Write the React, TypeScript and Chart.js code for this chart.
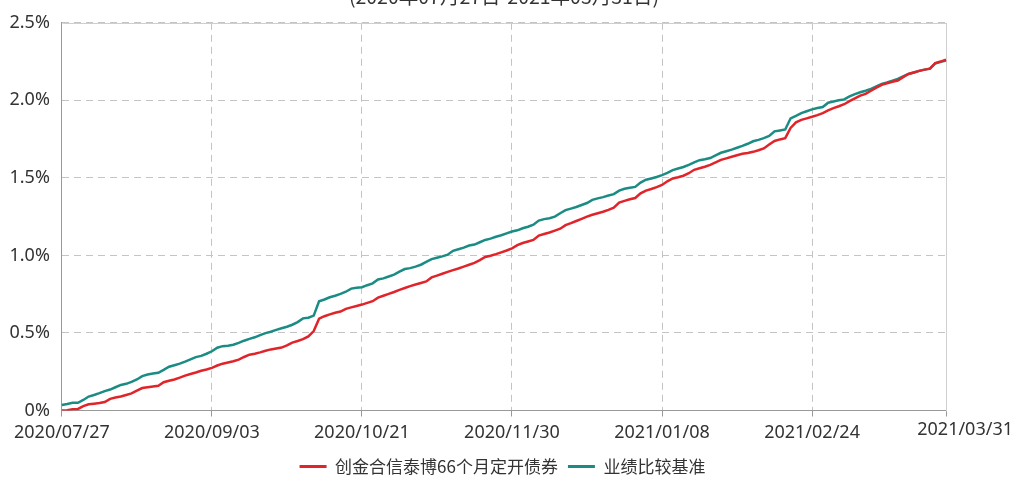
import React, { useEffect, useRef } from "react";
import { Chart, registerables } from "chart.js";

Chart.register(...registerables);

const TITLE = "(2020年07月27日-2021年03月31日)";
const FUND_NAME = "创金合信泰博66个月定开债券";
const BENCH_NAME = "业绩比较基准";

const DATES = [
  "2020/07/27", "2020/07/28", "2020/07/29", "2020/07/30", "2020/07/31",
  "2020/08/03", "2020/08/04", "2020/08/05", "2020/08/06", "2020/08/07",
  "2020/08/10", "2020/08/11", "2020/08/12", "2020/08/13", "2020/08/14",
  "2020/08/17", "2020/08/18", "2020/08/19", "2020/08/20", "2020/08/21",
  "2020/08/24", "2020/08/25", "2020/08/26", "2020/08/27", "2020/08/28",
  "2020/08/31", "2020/09/01", "2020/09/02", "2020/09/03", "2020/09/04",
  "2020/09/07", "2020/09/08", "2020/09/09", "2020/09/10", "2020/09/11",
  "2020/09/14", "2020/09/15", "2020/09/16", "2020/09/17", "2020/09/18",
  "2020/09/21", "2020/09/22", "2020/09/23", "2020/09/24", "2020/09/25",
  "2020/09/28", "2020/09/29", "2020/09/30", "2020/10/09",
  "2020/10/12", "2020/10/13", "2020/10/14", "2020/10/15", "2020/10/16",
  "2020/10/19", "2020/10/20", "2020/10/21", "2020/10/22", "2020/10/23",
  "2020/10/26", "2020/10/27", "2020/10/28", "2020/10/29", "2020/10/30",
  "2020/11/02", "2020/11/03", "2020/11/04", "2020/11/05", "2020/11/06",
  "2020/11/09", "2020/11/10", "2020/11/11", "2020/11/12", "2020/11/13",
  "2020/11/16", "2020/11/17", "2020/11/18", "2020/11/19", "2020/11/20",
  "2020/11/23", "2020/11/24", "2020/11/25", "2020/11/26", "2020/11/27",
  "2020/11/30", "2020/12/01", "2020/12/02", "2020/12/03", "2020/12/04",
  "2020/12/07", "2020/12/08", "2020/12/09", "2020/12/10", "2020/12/11",
  "2020/12/14", "2020/12/15", "2020/12/16", "2020/12/17", "2020/12/18",
  "2020/12/21", "2020/12/22", "2020/12/23", "2020/12/24", "2020/12/25",
  "2020/12/28", "2020/12/29", "2020/12/30", "2020/12/31",
  "2021/01/04", "2021/01/05", "2021/01/06", "2021/01/07", "2021/01/08",
  "2021/01/11", "2021/01/12", "2021/01/13", "2021/01/14", "2021/01/15",
  "2021/01/18", "2021/01/19", "2021/01/20", "2021/01/21", "2021/01/22",
  "2021/01/25", "2021/01/26", "2021/01/27", "2021/01/28", "2021/01/29",
  "2021/02/01", "2021/02/02", "2021/02/03", "2021/02/04", "2021/02/05",
  "2021/02/08", "2021/02/09", "2021/02/10", "2021/02/18", "2021/02/19",
  "2021/02/22", "2021/02/23", "2021/02/24", "2021/02/25", "2021/02/26",
  "2021/03/01", "2021/03/02", "2021/03/03", "2021/03/04", "2021/03/05",
  "2021/03/08", "2021/03/09", "2021/03/10", "2021/03/11", "2021/03/12",
  "2021/03/15", "2021/03/16", "2021/03/17", "2021/03/18", "2021/03/19",
  "2021/03/22", "2021/03/23", "2021/03/24", "2021/03/25", "2021/03/26",
  "2021/03/29", "2021/03/30", "2021/03/31",
];

// cumulative return of the fund, %
const FUND = [
  0.000, 0.002, 0.008, 0.010, 0.028, 0.040, 0.044, 0.048, 0.055, 0.075,
  0.084, 0.090, 0.100, 0.110, 0.128, 0.145, 0.150, 0.155, 0.160, 0.182,
  0.192, 0.200, 0.212, 0.225, 0.235, 0.245, 0.256, 0.264, 0.275, 0.290,
  0.302, 0.310, 0.318, 0.328, 0.345, 0.360, 0.366, 0.375, 0.385, 0.394,
  0.400, 0.406, 0.420, 0.438, 0.448, 0.460, 0.478, 0.512, 0.592, 0.608,
  0.620, 0.630, 0.638, 0.655, 0.665, 0.674, 0.683, 0.694, 0.705, 0.728,
  0.740, 0.752, 0.764, 0.778, 0.790, 0.802, 0.812, 0.822, 0.832, 0.858,
  0.870, 0.882, 0.894, 0.905, 0.916, 0.928, 0.940, 0.952, 0.970, 0.990,
  0.998, 1.008, 1.020, 1.032, 1.046, 1.066, 1.080, 1.090, 1.100, 1.128,
  1.138, 1.148, 1.160, 1.172, 1.195, 1.208, 1.222, 1.236, 1.250, 1.262,
  1.272, 1.282, 1.294, 1.308, 1.340, 1.352, 1.362, 1.370, 1.400, 1.418,
  1.428, 1.440, 1.454, 1.478, 1.496, 1.504, 1.514, 1.530, 1.552, 1.562,
  1.572, 1.584, 1.600, 1.616, 1.626, 1.636, 1.646, 1.655, 1.660, 1.668,
  1.678, 1.690, 1.715, 1.738, 1.748, 1.756, 1.822, 1.858, 1.874, 1.884,
  1.894, 1.905, 1.918, 1.935, 1.950, 1.962, 1.975, 1.995, 2.012, 2.030,
  2.042, 2.062, 2.082, 2.100, 2.110, 2.120, 2.128, 2.150, 2.170, 2.180,
  2.190, 2.198, 2.204, 2.240, 2.250, 2.263,
];

// cumulative return of the benchmark, %
const BENCH = [
  0.035, 0.042, 0.050, 0.050, 0.068, 0.090, 0.100, 0.112, 0.125, 0.135,
  0.150, 0.165, 0.172, 0.185, 0.200, 0.222, 0.232, 0.238, 0.243, 0.262,
  0.282, 0.292, 0.302, 0.315, 0.330, 0.344, 0.352, 0.366, 0.382, 0.405,
  0.415, 0.418, 0.424, 0.436, 0.450, 0.462, 0.472, 0.486, 0.499, 0.508,
  0.520, 0.530, 0.540, 0.553, 0.570, 0.594, 0.598, 0.612, 0.704, 0.716,
  0.730, 0.740, 0.752, 0.766, 0.786, 0.791, 0.795, 0.808, 0.820, 0.845,
  0.852, 0.864, 0.876, 0.895, 0.912, 0.918, 0.928, 0.940, 0.958, 0.976,
  0.985, 0.994, 1.005, 1.030, 1.040, 1.050, 1.064, 1.070, 1.085, 1.100,
  1.108, 1.120, 1.130, 1.142, 1.154, 1.162, 1.175, 1.185, 1.198, 1.225,
  1.234, 1.240, 1.250, 1.272, 1.292, 1.302, 1.312, 1.325, 1.338, 1.358,
  1.368, 1.376, 1.386, 1.395, 1.418, 1.430, 1.436, 1.442, 1.470, 1.488,
  1.496, 1.506, 1.518, 1.532, 1.550, 1.560, 1.570, 1.584, 1.600, 1.614,
  1.620, 1.628, 1.645, 1.662, 1.672, 1.682, 1.694, 1.706, 1.720, 1.736,
  1.745, 1.756, 1.770, 1.800, 1.806, 1.812, 1.884, 1.900, 1.918, 1.930,
  1.942, 1.950, 1.957, 1.985, 1.992, 2.000, 2.006, 2.025, 2.040, 2.052,
  2.062, 2.074, 2.090, 2.106, 2.115, 2.126, 2.138, 2.155, 2.170, 2.180,
  2.190, 2.198, 2.204, 2.238, 2.248, 2.257,
];

const Y_MIN = 0;
const Y_MAX = 2.5;
const Y_STEP = 0.5;
const X_TICK_EVERY = 28;

const RED = "#e0242a";
const TEAL = "#1b8c84";
const TEXT = "#333333";
const TICK_FONT = { family: '"Noto Sans", sans-serif', size: 18 };
const CJK_FONT = '"Noto Sans CJK SC", "Noto Sans", sans-serif';

export default function App() {
  const ref = useRef<HTMLCanvasElement | null>(null);

  useEffect(() => {
    document.body.style.margin = "0";
    const canvas = ref.current;
    if (!canvas) return;

    const titlePlugin = {
      id: "topTitle",
      afterDraw(chart: any) {
        const { ctx, chartArea } = chart;
        ctx.save();
        ctx.font = `19.5px ${CJK_FONT}`;
        ctx.fillStyle = TEXT;
        ctx.textAlign = "center";
        ctx.textBaseline = "alphabetic";
        ctx.fillText(TITLE, (chartArea.left + chartArea.right) / 2, 4);
        ctx.restore();
      },
    };

    const borderPlugin = {
      id: "areaBorder",
      beforeDatasetsDraw(chart: any) {
        const { ctx, chartArea } = chart;
        ctx.save();
        ctx.strokeStyle = "#cfcfcf";
        ctx.lineWidth = 1;
        ctx.beginPath();
        ctx.moveTo(Math.round(chartArea.left) + 0.5, Math.round(chartArea.top) + 0.5);
        ctx.lineTo(Math.round(chartArea.right) + 0.5, Math.round(chartArea.top) + 0.5);
        ctx.lineTo(Math.round(chartArea.right) + 0.5, Math.round(chartArea.bottom) + 0.5);
        ctx.stroke();
        ctx.restore();
      },
    };

    const lastLabelPlugin = {
      id: "lastLabel",
      afterDraw(chart: any) {
        const xs = chart.scales.x;
        const ctx = chart.ctx;
        const o = xs.options;
        const y = xs.top + o.grid.tickLength + o.ticks.padding + (TICK_FONT.size * 1.2) / 2;
        ctx.save();
        ctx.font = `${TICK_FONT.size}px ${TICK_FONT.family}`;
        ctx.fillStyle = TEXT;
        ctx.textAlign = "right";
        ctx.textBaseline = "middle";
        ctx.fillText(DATES[DATES.length - 1], chart.width - 3, y - 3);
        ctx.restore();
      },
    };

    const defaultLabels = Chart.defaults.plugins.legend.labels.generateLabels;

    const chart = new Chart(canvas, {
      type: "line",
      data: {
        labels: DATES,
        datasets: [
          {
            label: FUND_NAME,
            data: FUND,
            borderColor: RED,
            backgroundColor: RED,
            borderWidth: 2.5,
            pointRadius: 0,
            pointHoverRadius: 0,
            tension: 0,
            fill: false,
          },
          {
            label: BENCH_NAME,
            data: BENCH,
            borderColor: TEAL,
            backgroundColor: TEAL,
            borderWidth: 2.5,
            pointRadius: 0,
            pointHoverRadius: 0,
            tension: 0,
            fill: false,
          },
        ],
      },
      options: {
        responsive: false,
        animation: false,
        events: [],
        layout: { padding: { left: -2.5, right: 8.5, top: 18.5, bottom: -8 } },
        scales: {
          x: {
            type: "category",
            offset: false,
            afterFit(scale: any) {
              scale.height = 37.5;
            },
            grid: {
              display: true,
              color: "#c4c4c4",
              lineWidth: 1,
              drawTicks: true,
              tickLength: 6,
              tickColor: "#999999",
            },
            border: { display: true, color: "#999999", width: 1, dash: [7, 5] },
            ticks: {
              autoSkip: false,
              maxRotation: 0,
              minRotation: 0,
              padding: 6,
              color: TEXT,
              font: TICK_FONT,
              callback(this: any, value: any, index: number) {
                const last = DATES.length - 1;
                if (index === last) return "";
                if (index % X_TICK_EVERY === 0) return DATES[index];
                return null;
              },
            },
          },
          y: {
            min: Y_MIN,
            max: Y_MAX,
            grid: {
              display: true,
              color: "#c4c4c4",
              lineWidth: 1,
              drawTicks: false,
            },
            border: { display: true, color: "#999999", width: 1, dash: [7, 5] },
            ticks: {
              stepSize: Y_STEP,
              padding: 12,
              color: TEXT,
              font: TICK_FONT,
              callback(value: any) {
                const v = Number(value);
                return v === 0 ? "0%" : v.toFixed(1) + "%";
              },
            },
          },
          // empty right-hand gutter (no ticks, no line)
          gutter: {
            type: "linear",
            position: "right",
            display: true,
            grid: { display: false, drawOnChartArea: false, drawTicks: false },
            border: { display: false },
            ticks: { display: false },
            afterFit(scale: any) {
              scale.width = 61.5;
            },
          },
        },
        plugins: {
          title: { display: false },
          tooltip: { enabled: false },
          legend: {
            display: true,
            position: "bottom",
            labels: {
              boxWidth: 27,
              boxHeight: 3,
              padding: 10,
              color: TEXT,
              font: { family: CJK_FONT, size: 17 },
              generateLabels(ch: any) {
                return defaultLabels(ch).map((it: any) => ({
                  ...it,
                  lineWidth: 0,
                  fillStyle: it.strokeStyle,
                }));
              },
            },
          },
        },
      },
      plugins: [titlePlugin, borderPlugin, lastLabelPlugin],
    } as any);

    return () => {
      chart.destroy();
    };
  }, []);

  return (
    <div style={{ width: 1016, height: 477, position: "relative" }}>
      <canvas ref={ref} width={1016} height={477} style={{ display: "block" }} />
    </div>
  );
}
